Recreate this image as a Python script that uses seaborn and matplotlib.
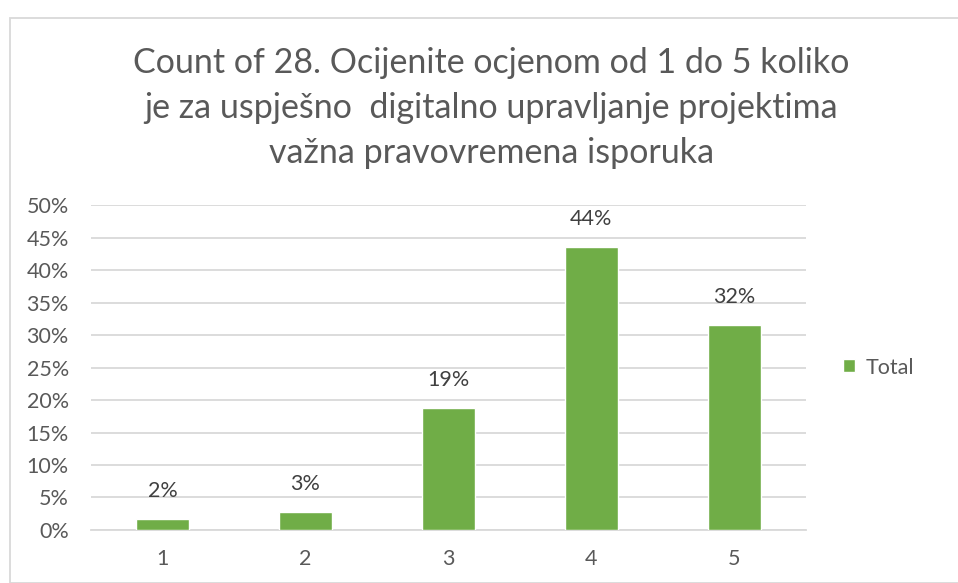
import numpy as np
import pandas as pd
import matplotlib.pyplot as plt
import seaborn as sns
from matplotlib.patches import Rectangle
from matplotlib.ticker import PercentFormatter

categories = ["1", "2", "3", "4", "5"]
values = [0.017, 0.027, 0.187, 0.436, 0.316]
labels = ["2%", "3%", "19%", "44%", "32%"]
series_name = "Total"
title = ("Count of 28. Ocijenite ocjenom od 1 do 5 koliko\n"
         "je za uspješno  digitalno upravljanje projektima\n"
         "važna pravovremena isporuka")

sns.set_style("white")
plt.rcParams['font.family'] = ['Lato', 'DejaVu Sans']

grey = "#595959"
green = "#70AD47"

df = pd.DataFrame({"Ocjena": categories, "Udio": values})

fig = plt.figure(figsize=(9.58, 5.83), dpi=100)
ax = fig.add_axes([0.095, 0.091, 0.746, 0.557])

sns.barplot(data=df, x="Ocjena", y="Udio", color=green, width=0.37,
            saturation=1, label=series_name, ax=ax, zorder=3)

ax.set_ylim(0, 0.5)
ax.set_yticks(np.arange(0, 0.51, 0.05))
ax.yaxis.set_major_formatter(PercentFormatter(1.0, decimals=0))
ax.set_xlim(-0.5, len(categories) - 0.5)
ax.grid(axis="y", color="#D9D9D9", linewidth=1.3, zorder=0)
ax.set_xlabel("")
ax.set_ylabel("")

for s in ["top", "right", "left"]:
    ax.spines[s].set_visible(False)
ax.spines["bottom"].set_color("#D9D9D9")
ax.spines["bottom"].set_linewidth(1.3)

ax.tick_params(axis="y", length=0, labelsize=15.5, labelcolor=grey, pad=16)
ax.tick_params(axis="x", which="major", length=0, labelsize=15.5, labelcolor=grey, pad=14)
ax.set_xticks(np.arange(-0.5, len(categories)), minor=True)
ax.tick_params(axis="x", which="minor", length=6, color="#D9D9D9", width=1.3)

for i, (v, t) in enumerate(zip(values, labels)):
    ax.annotate(t, (i, v), xytext=(0, 13), textcoords="offset points",
                ha="center", va="bottom", fontsize=15.5, color="#404040")

leg = ax.legend(loc="center left", bbox_to_anchor=(1.04, 0.5), frameon=False,
                fontsize=15.5, handlelength=0.55, handleheight=0.55,
                handletextpad=0.5, borderaxespad=0)
for t in leg.get_texts():
    t.set_color(grey)

fig.text(0.513, 0.815, title, ha="center", va="center", fontsize=24.5,
         color=grey, linespacing=1.5)

fig.patches.append(Rectangle((10 / 958, 0), 1, 1 - 18 / 583,
                             transform=fig.transFigure, fill=False,
                             edgecolor="#D9D9D9", linewidth=1.3))

plt.savefig("out.png", dpi=100)
